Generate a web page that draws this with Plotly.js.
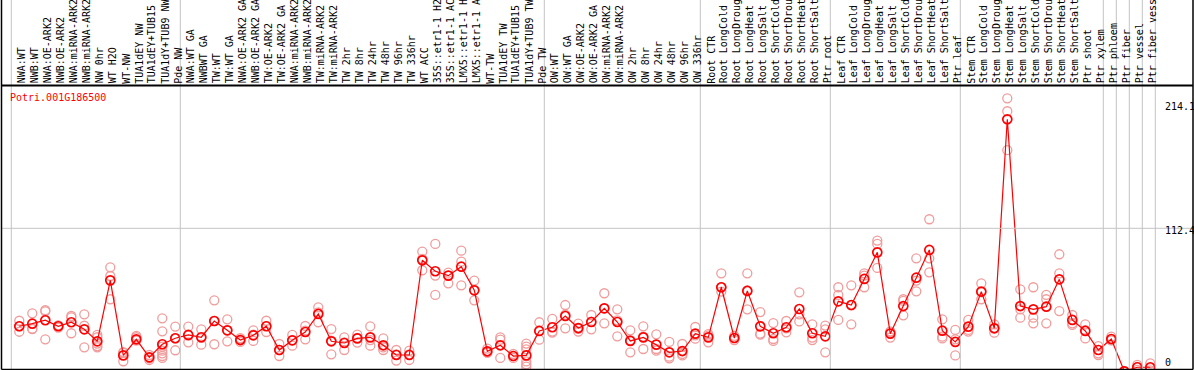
<!DOCTYPE html>
<html><head><meta charset="utf-8">
<script src="https://cdn.plot.ly/plotly-3.0.1.min.js"></script>
<style>html,body{margin:0;padding:0;background:#fff;} #chart{width:1194px;height:370px;}</style>
</head><body><div id="chart"></div>
<script>
const geneId = "Potri.001G186500";
const categories = [
"NWA:WT","NWB:WT","NWA:OE-ARK2","NWB:OE-ARK2","NWA:miRNA-ARK2","NWB:miRNA-ARK2","NW 0hr","WT H2O","WT-NW","TUA1dEY NW","TUA1dEY+TUB15","TUA1dY+TUB9 NW","Pde NW",
"NWA:WT GA","NWBWT GA","TW:WT","TW:WT GA","NWA:OE-ARK2 GA","NWB:OE-ARK2 GA","TW:OE-ARK2","TW:OE-ARK2 GA","NWA:miRNA-ARK2","NWB:miRNA-ARK2","TW:miRNA-ARK2","TW:miRNA-ARK2","TW 2hr","TW 8hr","TW 24hr","TW 48hr","TW 96hr","TW 336hr","WT ACC","35S::etr1-1 H2","35S::etr1-1 AC","LMX5::etr1-1 H","LMX5::etr1-1 A","WT-TW","TUA1dEY TW","TUA1dEY+TUB15","TUA1dY+TUB9 TW","Pde TW",
"OW:WT","OW:WT GA","OW:OE-ARK2","OW:OE-ARK2 GA","OW:miRNA-ARK2","OW:miRNA-ARK2","OW 2hr","OW 8hr","OW 24hr","OW 48hr","OW 96hr","OW 336hr",
"Root CTR","Root LongCold","Root LongDroug","Root LongHeat","Root LongSalt","Root ShortCold","Root ShortDrou","Root ShortHeat","Root ShortSalt","Ptr root",
"Leaf CTR","Leaf LongCold","Leaf LongDroug","Leaf LongHeat","Leaf LongSalt","Leaf ShortCold","Leaf ShortDrou","Leaf ShortHeat","Leaf ShortSalt","Ptr leaf",
"Stem CTR","Stem LongCold","Stem LongDroug","Stem LongHeat","Stem LongSalt","Stem ShortCold","Stem ShortDrou","Stem ShortHeat","Stem ShortSalt","Ptr shoot","Ptr xylem",
"Ptr phloem","Ptr fiber","Ptr vessel","Ptr fiber vess"
];
const means = [
35.8,37.8,40.5,35.8,38.9,33.4,24.0,71.7,13.0,25.6,11.5,21.7,26.4,
29.0,27.2,39.9,32.6,25.0,28.7,35.8,17.2,24.8,31.3,45.4,24.0,22.7,26.3,27.1,20.9,13.3,13.3,87.4,78.8,75.4,82.4,63.9,16.2,20.9,12.5,13.0,32.1,
35.0,43.8,34.4,39.1,49.8,39.1,24.3,27.1,21.4,15.4,16.4,30.0,
27.1,66.3,26.6,63.4,35.7,30.3,35.0,49.3,30.3,27.9,
55.3,52.4,72.8,93.6,30.0,51.6,73.8,95.5,32.3,23.5,
35.5,62.9,34.2,197.7,51.6,49.0,51.1,72.5,40.7,32.1,17.2,
25.8,0.5,3.7,3.7
];
const replicates = [
[40.1,35.8,31.5],[45.9,33.6,33.9],[48.3,47.5,25.6],[36.5,34.7,36.2],[43.8,42.8,30.3],[45.1,36.2,19.3],[29.0,27.2,22.2,20.3,19.3],[81.9,75.1,56.9],[15.6,8.4,15.0],[28.2,27.2,24.5],[13.3,10.7,9.4],[42.0,31.8,19.8,16.7,14.6,12.5,11.0],[35.5,17.0,26.4],
[35.5,23.2,28.4],[33.4,21.4,26.8],[56.1,39.9,21.7],[41.2,24.0,32.6],[26.4,23.5,25.1],[32.6,24.3,29.2],[40.1,31.3,35.9],[21.9,12.5,17.2],[29.0,20.6,24.8],[36.0,25.6,32.3],[50.6,38.9,46.7],[33.6,13.8,24.6],[27.1,17.2,23.2],[29.2,23.0,26.7],[35.7,20.6,25.0],[26.3,17.2,19.2],[17.2,8.9,13.8],[16.7,9.4,13.8],[94.2,79.6,88.4],[100.2,75.4,60.3],[77.7,69.4,75.4],[94.9,86.3,67.8],[71.5,56.1,64.1],[18.3,15.1,15.2],[27.1,25.3,11.0],[14.1,11.0,12.4],[22.2,19.8,17.7,8.3,6.0,4.2],[38.9,25.3,32.1],
[41.5,31.6,30.8],[52.4,34.2,44.8],[37.8,31.6,33.8],[44.6,33.4,39.3],[61.6,38.1,49.7],[49.0,27.9,40.4],[32.6,15.4,24.9],[35.7,18.0,27.6],[29.5,18.0,16.7],[23.5,10.7,12.0],[21.9,14.1,13.0],[35.2,26.1,28.7],
[28.4,23.2,29.7],[77.2,62.9,66.3],[28.2,25.0,26.6],[77.2,49.0,63.9],[46.9,30.0,29.2],[38.3,25.8,24.3],[39.9,31.0,34.1],[62.3,45.1,39.6],[37.3,26.9,25.0],[36.3,33.4,15.4],
[66.3,60.3,40.7],[67.8,37.3,52.1],[77.2,75.4,66.3],[102.8,100.2,81.4],[31.6,26.9,31.5],[56.9,55.6,44.3],[88.9,71.5,63.1],[119.5,88.9,78.0],[41.2,27.6,26.3],[32.9,25.6,13.0],
[40.7,32.9,31.6],[69.4,56.9,62.4],[37.3,30.8,34.5],[214.1,204.0,173.5],[64.7,49.0,42.5],[66.3,42.5,38.1],[60.3,56.9,38.1],[92.1,77.2,47.7],[44.6,38.1,36.8],[37.3,26.3,32.7],[20.3,14.6,13.3],
[27.6,25.0,24.8],[0.4,0.6,0.5],[5.5,4.0,1.6],[6.8,3.0,1.3]
];
const groupStarts = [0,13,41,53,63,73,84,85,86,87,88];
const yTickValues = [0,112.4,214.1];
const yTickLabels = ["0","112.4","214.1"];
const yGridValues = [112.4];

// ---- layout geometry (pixels) ----
const W = 1194, H = 370;
const X0 = 19.3, DX = 13;        // pixel x of first category and pitch
const Y0 = 372.0, SY = 1.2783;   // pixel y of value 0 and px per unit
const headerY = 85.5, bottomY = 369.5, leftX = 1.5, rightX = 1193;
const px = v => v / W, py = v => 1 - v / H;

const idx = categories.map((_, i) => i);
const repX = [], repY = [];
replicates.forEach((r, i) => r.forEach(v => { repX.push(i); repY.push(v); }));

const mono = "DejaVu Sans Mono, Liberation Mono, monospace";

const traces = [
  { x: repX, y: repY, type: 'scatter', mode: 'markers', hoverinfo: 'y',
    marker: { symbol: 'circle-open', size: 9, color: '#f09c9c', line: { width: 1.3 } } },
  { x: idx, y: means, type: 'scatter', mode: 'lines+markers', hoverinfo: 'y',
    line: { color: '#ff0000', width: 1.2 },
    marker: { symbol: 'circle-open', size: 9, color: '#ff0000', line: { width: 1.7 } } }
];

const shapes = [];
groupStarts.forEach(b => shapes.push({ type: 'line', xref: 'x', yref: 'paper',
  x0: b - 8 / 13, x1: b - 8 / 13, y0: py(bottomY), y1: 1, line: { color: '#c4c4c4', width: 1 } }));
yGridValues.forEach(v => shapes.push({ type: 'line', xref: 'paper', yref: 'y',
  x0: px(leftX), x1: px(rightX), y0: v, y1: v, line: { color: '#c4c4c4', width: 1 } }));
shapes.push({ type: 'line', xref: 'paper', yref: 'paper', x0: px(leftX), x1: px(rightX), y0: py(headerY), y1: py(headerY), line: { color: '#000', width: 2 } });
shapes.push({ type: 'line', xref: 'paper', yref: 'paper', x0: px(leftX), x1: px(leftX), y0: py(bottomY), y1: 1, line: { color: '#000', width: 1.5 } });
shapes.push({ type: 'line', xref: 'paper', yref: 'paper', x0: px(rightX), x1: px(rightX), y0: py(bottomY), y1: 1, line: { color: '#000', width: 1.5 } });
shapes.push({ type: 'line', xref: 'paper', yref: 'paper', x0: px(leftX), x1: px(rightX), y0: py(bottomY), y1: py(bottomY), line: { color: '#000', width: 1.5 } });

const annotations = [];
categories.forEach((c, i) => annotations.push({ x: i, y: py(84.5), xref: 'x', yref: 'paper',
  text: c, textangle: -90, xanchor: 'center', yanchor: 'bottom', showarrow: false, xshift: 2.5,
  borderpad: 0, font: { family: mono, size: 10, color: '#000' } }));
const tickPy = [362, 230, 106.7];
yTickValues.forEach((v, k) => annotations.push({ x: px(1164), y: py(tickPy[k]), xref: 'paper', yref: 'paper',
  text: yTickLabels[k], xanchor: 'left', yanchor: 'middle', showarrow: false, borderpad: 0,
  font: { family: mono, size: 10, color: '#000' } }));
annotations.push({ x: px(8.5), y: py(97), xref: 'paper', yref: 'paper', text: geneId,
  xanchor: 'left', yanchor: 'middle', showarrow: false, borderpad: 0,
  font: { family: mono, size: 10, color: '#ff0000' } });

const layout = {
  width: W, height: H, margin: { l: 0, r: 0, t: 0, b: 0, pad: 0 },
  paper_bgcolor: '#fff', plot_bgcolor: '#fff', showlegend: false,
  xaxis: { range: [(0 - X0) / DX, (W - X0) / DX], visible: false, fixedrange: true },
  yaxis: { range: [(Y0 - H) / SY, Y0 / SY], visible: false, fixedrange: true },
  shapes: shapes, annotations: annotations
};
Plotly.newPlot('chart', traces, layout, { displayModeBar: false, staticPlot: true });
</script></body></html>
